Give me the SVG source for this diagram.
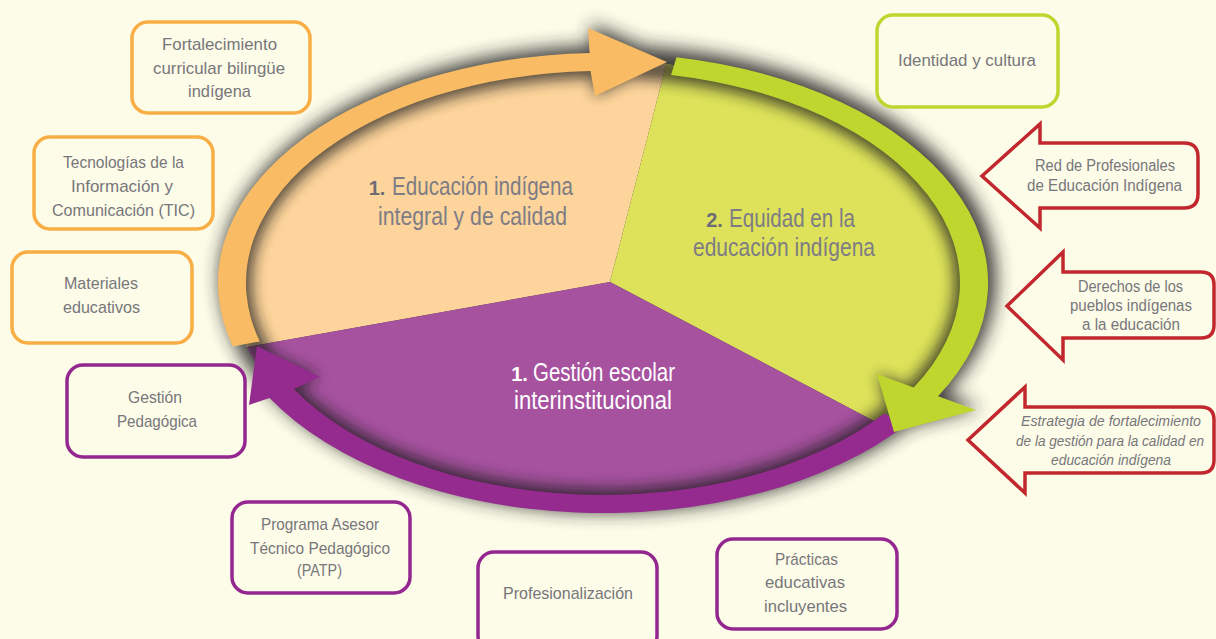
<svg xmlns="http://www.w3.org/2000/svg" width="1216" height="639" viewBox="0 0 1216 639">
<style>
.bx{fill:#FDFCE8;stroke-width:3.5}
.or{stroke:#F8AE45}
.pu{stroke:#93278F}
.gr{stroke:#BED730}
.rd{fill:#FDFCE8;stroke:#C1272D;stroke-width:3.5;stroke-linejoin:miter}
.t{font-family:"Liberation Sans",Arial,sans-serif;font-size:17px;fill:#77767B;text-anchor:middle}
.ta{font-family:"Liberation Sans",Arial,sans-serif;font-size:16px;fill:#77767B;text-anchor:middle}
.ti{font-family:"Liberation Sans",Arial,sans-serif;font-size:14.5px;font-style:italic;fill:#77767B;text-anchor:middle}
.s{font-family:"Liberation Sans",Arial,sans-serif;font-size:25px;fill:#7E7C85;text-anchor:middle}
.sw{font-family:"Liberation Sans",Arial,sans-serif;font-size:25px;fill:#FFFFFF;text-anchor:middle}
.n{font-family:"Liberation Sans",Arial,sans-serif;font-size:20px;font-weight:bold;text-anchor:middle}
</style>
<defs>
<filter id="blurA" x="-20%" y="-30%" width="140%" height="160%"><feGaussianBlur stdDeviation="9"/></filter>
<filter id="blurB" x="-20%" y="-30%" width="140%" height="160%"><feGaussianBlur stdDeviation="7"/></filter>
<clipPath id="ellClip"><ellipse cx="603" cy="283" rx="372" ry="222"/></clipPath>
<path id="bandO" d="M232.9 346.4 A385 230 0 0 1 589.6 53.1 L588 28 L667 62 L595 96 L590.5 71.1 A357 212 0 0 0 259.8 341.4 Z"/>
<path id="bandG" d="M676.5 57.2 A385 230 0 0 1 938.1 396.3 L976 410 L894 432 L877 374 L913.7 387.4 A357 212 0 0 0 671.1 74.9 Z"/>
<path id="bandP" d="M906.4 424.6 A385 230 0 0 1 269.6 398 L249 405 L257 346 L320 377 L293.8 389 A357 212 0 0 0 884.3 413.5 Z"/>
</defs>
<rect width="1216" height="639" fill="#FDFCE8"/>

<g id="ring-shadow">
<g filter="url(#blurA)" opacity="0.9">
<ellipse cx="608" cy="279" rx="388" ry="233" fill="#262626"/>
<use href="#bandO" fill="#262626" transform="translate(3,-4)"/>
<use href="#bandG" fill="#262626" transform="translate(4,-3)"/>
</g>
</g>

<g id="sectors" clip-path="url(#ellClip)">
<polygon points="610,282 684,-4 -10,-4 -10,393" fill="#FDD49B"/>
<polygon points="610,282 684,-4 1216,-4 1216,601" fill="#DDE25A"/>
<polygon points="610,282 -10,393 -10,650 1216,650 1216,601" fill="#A6529F"/>
<g filter="url(#blurB)" opacity="0.72">
<ellipse cx="603" cy="283" rx="362" ry="216" fill="none" stroke="#1a1a1a" stroke-width="22"/>
<use href="#bandO" fill="#1a1a1a"/>
<use href="#bandG" fill="#1a1a1a"/>
<use href="#bandP" fill="#1a1a1a"/>
</g>
</g>

<g id="connectors">
<use href="#bandP" fill="#952A8F"/>
<use href="#bandO" fill="#F9BB63"/>
<use href="#bandG" fill="#BFD62F"/>
</g>

<g id="sector-1">
<text class="n" x="377" y="195" fill="#6E6C75">1.</text>
<text class="s" x="482.5" y="195" textLength="181" lengthAdjust="spacingAndGlyphs">Educación indígena</text>
<text class="s" x="472.5" y="225" textLength="189" lengthAdjust="spacingAndGlyphs">integral y de calidad</text>
</g>
<g id="sector-2">
<text class="n" x="714.5" y="227" fill="#6E6C75">2.</text>
<text class="s" x="792" y="227" textLength="126" lengthAdjust="spacingAndGlyphs">Equidad en la</text>
<text class="s" x="784" y="256" textLength="182" lengthAdjust="spacingAndGlyphs">educación indígena</text>
</g>
<g id="sector-3">
<text class="n" x="519.5" y="381" fill="#FFFFFF">1.</text>
<text class="sw" x="604" y="381" textLength="142" lengthAdjust="spacingAndGlyphs">Gestión escolar</text>
<text class="sw" x="593" y="409" textLength="158" lengthAdjust="spacingAndGlyphs">interinstitucional</text>
</g>

<g id="box-fortalecimiento">
<rect class="bx or" x="132" y="22" width="178" height="91" rx="16"/>
<text class="t" x="219.5" y="50" textLength="115" lengthAdjust="spacingAndGlyphs">Fortalecimiento</text>
<text class="t" x="219" y="74" textLength="132" lengthAdjust="spacingAndGlyphs">curricular bilingüe</text>
<text class="t" x="219.5" y="97" textLength="63" lengthAdjust="spacingAndGlyphs">indígena</text>
</g>
<g id="box-tic">
<rect class="bx or" x="34" y="137" width="179" height="92" rx="16"/>
<text class="t" x="123.5" y="168" textLength="121" lengthAdjust="spacingAndGlyphs">Tecnologías de la</text>
<text class="t" x="122" y="192" textLength="102" lengthAdjust="spacingAndGlyphs">Información y</text>
<text class="t" x="123.5" y="216" textLength="143" lengthAdjust="spacingAndGlyphs">Comunicación (TIC)</text>
</g>
<g id="box-materiales">
<rect class="bx or" x="12" y="252" width="180" height="91" rx="16"/>
<text class="t" x="101" y="289" textLength="74" lengthAdjust="spacingAndGlyphs">Materiales</text>
<text class="t" x="101.5" y="313" textLength="77" lengthAdjust="spacingAndGlyphs">educativos</text>
</g>
<g id="box-gestion-pedagogica">
<rect class="bx pu" x="67" y="365" width="178" height="92" rx="16"/>
<text class="t" x="155" y="403" textLength="54" lengthAdjust="spacingAndGlyphs">Gestión</text>
<text class="t" x="157" y="427" textLength="80" lengthAdjust="spacingAndGlyphs">Pedagógica</text>
</g>
<g id="box-patp">
<rect class="bx pu" x="232" y="502" width="178" height="91" rx="16"/>
<text class="t" x="320" y="530" textLength="118" lengthAdjust="spacingAndGlyphs">Programa Asesor</text>
<text class="t" x="320" y="554" textLength="140" lengthAdjust="spacingAndGlyphs">Técnico Pedagógico</text>
<text class="t" x="319.5" y="576" textLength="45" lengthAdjust="spacingAndGlyphs">(PATP)</text>
</g>
<g id="box-profesionalizacion">
<rect class="bx pu" x="478" y="552" width="179" height="100" rx="16"/>
<text class="t" x="568" y="599" textLength="130" lengthAdjust="spacingAndGlyphs">Profesionalización</text>
</g>
<g id="box-practicas">
<rect class="bx pu" x="717" y="539" width="180" height="90" rx="16"/>
<text class="t" x="806.5" y="565" textLength="63" lengthAdjust="spacingAndGlyphs">Prácticas</text>
<text class="t" x="805" y="588" textLength="80" lengthAdjust="spacingAndGlyphs">educativas</text>
<text class="t" x="805.5" y="612" textLength="83" lengthAdjust="spacingAndGlyphs">incluyentes</text>
</g>
<g id="box-identidad">
<rect class="bx gr" x="877" y="15" width="181" height="92" rx="16"/>
<text class="t" x="967" y="66" textLength="138" lengthAdjust="spacingAndGlyphs">Identidad y cultura</text>
</g>

<g id="arrow-red">
<path class="rd" d="M982 176 L1040 124 L1040 143 L1184 143 Q1198 143 1198 157 L1198 194 Q1198 208 1184 208 L1040 208 L1040 228 Z"/>
<text class="ta" x="1105" y="171" textLength="140" lengthAdjust="spacingAndGlyphs">Red de Profesionales</text>
<text class="ta" x="1104.5" y="191" textLength="155" lengthAdjust="spacingAndGlyphs">de Educación Indígena</text>
</g>
<g id="arrow-derechos">
<path class="rd" d="M1007 306 L1063 252 L1063 272 L1201 272 Q1214 272 1214 285 L1214 325 Q1214 338 1201 338 L1063 338 L1063 360 Z"/>
<text class="ta" x="1130.5" y="292" textLength="105" lengthAdjust="spacingAndGlyphs">Derechos de los</text>
<text class="ta" x="1131" y="311" textLength="122" lengthAdjust="spacingAndGlyphs">pueblos indígenas</text>
<text class="ta" x="1131" y="330" textLength="98" lengthAdjust="spacingAndGlyphs">a la educación</text>
</g>
<g id="arrow-estrategia">
<path class="rd" d="M968 440 L1025 387 L1025 407 L1201 407 Q1214 407 1214 420 L1214 460 Q1214 473 1201 473 L1025 473 L1025 493 Z"/>
<text class="ti" x="1111" y="426" textLength="180" lengthAdjust="spacingAndGlyphs">Estrategia de fortalecimiento</text>
<text class="ti" x="1110" y="446" textLength="188" lengthAdjust="spacingAndGlyphs">de la gestión para la calidad en</text>
<text class="ti" x="1111" y="465" textLength="120" lengthAdjust="spacingAndGlyphs">educación indígena</text>
</g>
</svg>
